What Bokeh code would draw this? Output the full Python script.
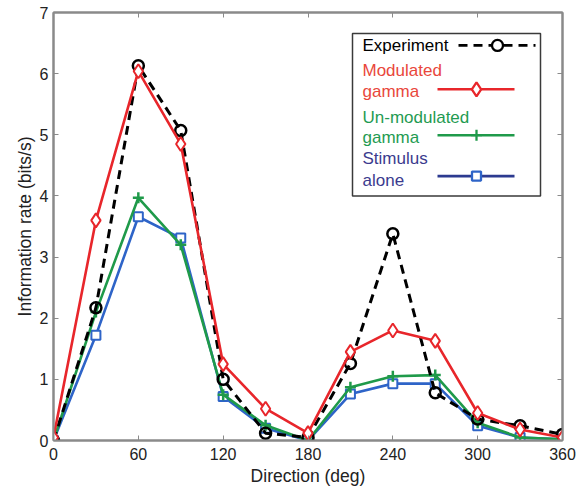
from bokeh.plotting import figure
from bokeh.models import LinearAxis, FixedTicker, Range1d, CustomJSTickFormatter, Label
from bokeh.embed import file_html
from bokeh.resources import INLINE

# Direction of motion (deg) and information rates (bits/s)
direction = [0, 30, 60, 90, 120, 150, 180, 210, 240, 270, 300, 330, 360]
experiment = [0.0, 2.17, 6.13, 5.07, 1.0, 0.12, 0.05, 1.26, 3.38, 0.78, 0.35, 0.24, 0.1]
modulated = [0.05, 3.6, 6.04, 4.85, 1.25, 0.52, 0.12, 1.45, 1.8, 1.63, 0.45, 0.18, 0.05]
unmodulated = [0.0, 2.1, 3.97, 3.2, 0.75, 0.25, 0.0, 0.87, 1.05, 1.07, 0.29, 0.05, 0.02]
stimulus = [0.0, 1.72, 3.66, 3.31, 0.72, 0.2, 0.0, 0.76, 0.93, 0.93, 0.24, 0.05, 0.02]

x_ticks = [0, 60, 120, 180, 240, 300, 360]
y_ticks = [0, 1, 2, 3, 4, 5, 6, 7]

FONT = "Liberation Sans"
RED = "#e8262b"
GREEN = "#1f9a4a"
BLUE = "#2e64c8"
AXIS_GRAY = "#8a8a8a"

W, H = 582, 488
LEFT, RIGHT, TOP, BOTTOM = 53, 20, 12, 47
FW, FH = W - LEFT - RIGHT, H - TOP - BOTTOM

p = figure(width=W, height=H, output_backend="svg", toolbar_location=None,
           x_range=Range1d(0, 360), y_range=Range1d(0, 7),
           min_border_left=LEFT, min_border_right=RIGHT,
           min_border_top=TOP, min_border_bottom=BOTTOM,
           background_fill_color="white", border_fill_color="white")
p.grid.visible = False
p.outline_line_color = AXIS_GRAY
p.outline_line_width = 2

p.xaxis.ticker = FixedTicker(ticks=x_ticks)
p.yaxis.ticker = FixedTicker(ticks=y_ticks)
p.xaxis.axis_label = "Direction (deg)"
p.yaxis.axis_label = "Information rate (bits/s)"
for ax in (p.xaxis[0], p.yaxis[0]):
    ax.axis_line_color = AXIS_GRAY
    ax.axis_line_width = 2
    ax.major_tick_line_color = AXIS_GRAY
    ax.major_tick_in = 5
    ax.major_tick_out = 0
    ax.minor_tick_line_color = None
    ax.major_label_text_font = FONT
    ax.major_label_text_font_size = "16px"
    ax.major_label_text_color = "#222222"
    ax.axis_label_text_font = FONT
    ax.axis_label_text_font_size = "17.5px"
    ax.axis_label_text_font_style = "normal"
    ax.axis_label_text_color = "#222222"
p.xaxis.major_label_standoff = 7
p.xaxis.axis_label_standoff = 3
p.yaxis.major_label_standoff = 5
p.yaxis.axis_label_standoff = 2

# Mirror ticks on the top and right edges of the box
blank = CustomJSTickFormatter(code="return ''")
top_ax = LinearAxis(ticker=FixedTicker(ticks=x_ticks), formatter=blank)
right_ax = LinearAxis(ticker=FixedTicker(ticks=y_ticks), formatter=blank)
for ax in (top_ax, right_ax):
    ax.axis_line_color = AXIS_GRAY
    ax.axis_line_width = 2
    ax.major_tick_line_color = AXIS_GRAY
    ax.major_tick_in = 5
    ax.major_tick_out = 0
    ax.minor_tick_line_color = None
    ax.major_label_text_font_size = "1px"
    ax.major_label_standoff = 0
p.add_layout(top_ax, "above")
p.add_layout(right_ax, "right")

# Data series
p.line(direction, stimulus, line_color=BLUE, line_width=2.6)
p.scatter(direction, stimulus, marker="square", size=9, line_color=BLUE,
          line_width=2, fill_color="white")
p.line(direction, unmodulated, line_color=GREEN, line_width=2.6)
p.scatter(direction, unmodulated, marker="cross", size=11, line_color=GREEN, line_width=2.5)
p.line(direction, experiment, line_color="black", line_width=3, line_dash="9 6")
p.scatter(direction, experiment, marker="circle", size=11, line_color="black",
          line_width=2.5, fill_color="white", fill_alpha=0.0)
p.line(direction, modulated, line_color=RED, line_width=2.6)
p.scatter(direction, modulated, marker="diamond", size=14, line_color=RED,
          line_width=2, fill_color="white")


# Legend, laid out in pixel positions and mapped into data space
def px_x(px):
    return (px - LEFT) / FW * 360.0


def px_y(py):
    return (H - BOTTOM - py) / FH * 7.0


p.quad(left=px_x(352), right=px_x(540), top=px_y(33), bottom=px_y(196),
       fill_color="white", line_color="#3a3a3a", line_width=1.5)

entries = [
    (["Experiment"], "black", "black", [45], 45, 458, 535, 497, "circle", 11, "9 6"),
    (["Modulated", "gamma"], "#e9473b", RED, [70, 91], 89, 437, 514, 476, "diamond", 14, "solid"),
    (["Un-modulated", "gamma"], "#1f9b52", GREEN, [117, 137], 135, 437, 514, 476, "cross", 11, "solid"),
    (["Stimulus", "alone"], "#3b3b8e", "#2c3a90", [158, 180], 176, 437, 514, 476, "square", 9, "solid"),
]
marker_colors = {"circle": "black", "diamond": RED, "cross": GREEN, "square": BLUE}
for lines, tcol, lcol, ty, ly, x0, x1, mx, marker, msize, dash in entries:
    for txt, yy in zip(lines, ty):
        p.add_layout(Label(x=px_x(362), y=px_y(yy), text=txt, text_font=FONT,
                           text_font_size="17px", text_color=tcol,
                           text_baseline="middle", text_align="left"))
    p.line([px_x(x0), px_x(x1)], [px_y(ly), px_y(ly)], line_color=lcol,
           line_width=2.6, line_dash=dash)
    mc = marker_colors[marker]
    p.scatter([px_x(mx)], [px_y(ly)], marker=marker, size=msize, line_color=mc,
              line_width=2.3, fill_color="white")

open("out.html", "w").write(file_html(p, INLINE))
